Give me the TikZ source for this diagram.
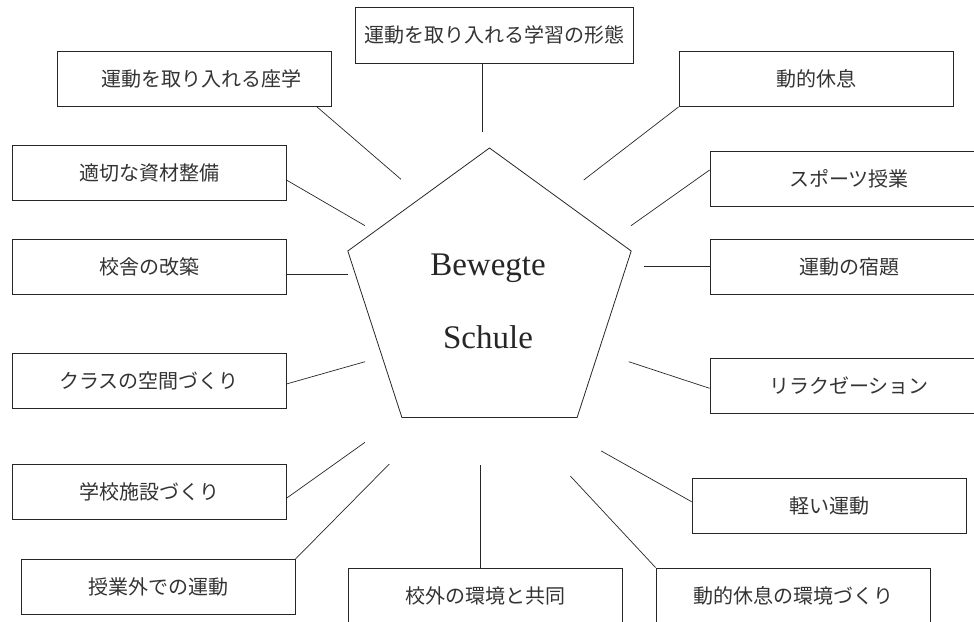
\documentclass[tikz,border=0pt]{standalone}
\usepackage{fontspec}
\setmainfont{Liberation Serif}
\newfontfamily\jpfont{Noto Sans CJK JP}
\usetikzlibrary{calc}
\begin{document}
\begin{tikzpicture}[x=1pt,y=-1pt,
  box/.style={draw=black!85, line width=0.8pt, minimum width=274pt, minimum height=55pt,
    inner sep=0pt, font=\jpfont\fontsize{20}{23}\selectfont, text=black!80},
  link/.style={draw=black!85, line width=0.7pt},
  big/.style={font=\fontsize{33}{38}\selectfont, text=black!85, anchor=base, inner sep=0pt}]
\clip (0,0) rectangle (974,621);
% pentagon
\coordinate (p1) at (489.5,148);
\coordinate (p2) at (631.2,251);
\coordinate (p3) at (577.1,417.5);
\coordinate (p4) at (401.9,417.5);
\coordinate (p5) at (347.8,251);
\draw[link, line width=0.8pt] (p1) -- (p2) -- (p3) -- (p4) -- (p5) -- cycle;
\node[big] (t1) at (488,275.7) {Bewegte};
\node[big] (t2) at (488,348.3) {Schule};
% boxes
\node[box, minimum width=278pt, minimum height=56pt] (top) at (494,35) {運動を取り入れる学習の形態};
\node[box] (a) at (194.5,78.5) {\hspace*{13pt}運動を取り入れる座学};
\node[box] (b) at (149,172.5) {適切な資材整備};
\node[box] (c) at (149,266.5) {校舎の改築};
\node[box] (d) at (149,380.5) {クラスの空間づくり};
\node[box] (e) at (149,491.5) {学校施設づくり};
\node[box] (f) at (158,587) {授業外での運動};
\node[box] (g) at (485,595.5) {校外の環境と共同};
\node[box] (h) at (793,595.5) {動的休息の環境づくり};
\node[box] (i) at (829,505.5) {軽い運動};
\node[box, minimum width=278pt] (j) at (849,385.5) {リラクゼーション};
\node[box, minimum width=278pt] (k) at (849,266.5) {運動の宿題};
\node[box, minimum width=278pt] (l) at (849,178.5) {スポーツ授業};
\node[box] (m) at (816,79) {動的休息};
% free ends
\coordinate (ctop) at (482,132);
\coordinate (ca) at (401,179.3);
\coordinate (cb) at (365,225.7);
\coordinate (cc) at (348,274.3);
\coordinate (cd) at (365,361.7);
\coordinate (ce) at (365,442.3);
\coordinate (cf) at (389.3,464);
\coordinate (cg) at (480,465);
\coordinate (ch) at (570.3,476);
\coordinate (ci) at (601.3,451);
\coordinate (cj) at (628.7,361.7);
\coordinate (ck) at (644,266.7);
\coordinate (cl) at (631,225.7);
\coordinate (cm) at (583.7,180);
% connectors
\draw[link] (ctop |- top.south) -- (ctop);
\draw[link] ($(a.south east)+(-15.5,0)$) -- (ca);
\draw[link] ($(b.east)+(0,7.5)$) -- (cb);
\draw[link] ($(c.east)+(0,7.8)$) -- (cc);
\draw[link] ($(d.east)+(0,3.5)$) -- (cd);
\draw[link] ($(e.east)+(0,6.8)$) -- (ce);
\draw[link] (f.north east) -- (cf);
\draw[link] (cg |- g.north) -- (cg);
\draw[link] (h.north west) -- (ch);
\draw[link] ($(i.west)+(0,-3.8)$) -- (ci);
\draw[link] ($(j.west)+(0,2.8)$) -- (cj);
\draw[link] ($(k.west)+(0,0.2)$) -- (ck);
\draw[link] ($(l.west)+(0,-8.5)$) -- (cl);
\draw[link] (m.south west) -- (cm);
\end{tikzpicture}
\end{document}
